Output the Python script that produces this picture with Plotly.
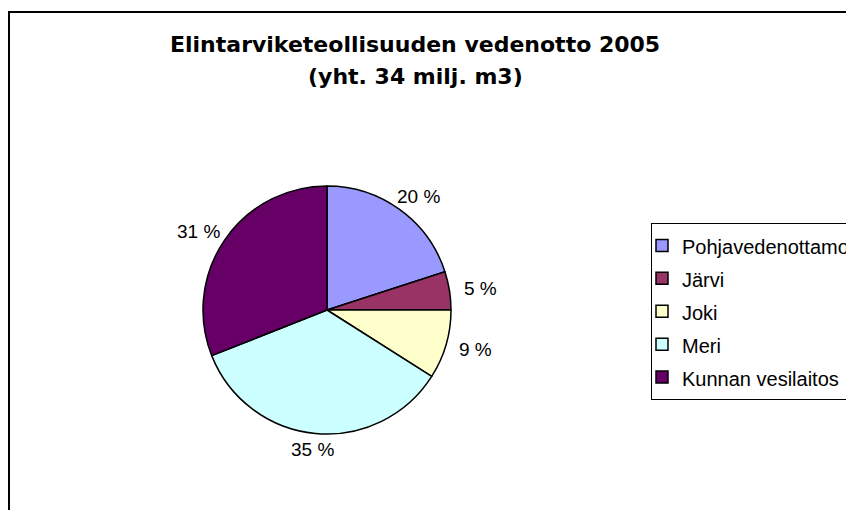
import math
import plotly.graph_objects as go

categories = ["Pohjavedenottamo", "Järvi", "Joki", "Meri", "Kunnan vesilaitos"]
shares = [20, 5, 9, 35, 31]
colors = ["#9999FF", "#993366", "#FFFFCC", "#CCFFFF", "#660066"]
title_lines = ["Elintarviketeollisuuden vedenotto 2005", "(yht. 34 milj. m3)"]

W, H = 846, 510
cx, cy, r = 327, 310, 124
label_rx, label_ry = 155, 140  # label ellipse around the pie centre (px)

fig = go.Figure(go.Pie(
    labels=[f'<span style="font-size:20px">{c}</span>' for c in categories],
    values=shares,
    textinfo="none",
    marker=dict(colors=colors, line=dict(color="#000000", width=1.5)),
    sort=False,
    direction="clockwise",
    rotation=0,
    hovertext=categories,
    hoverinfo="text+percent",
    domain=dict(x=[(cx - r) / W, (cx + r) / W], y=[1 - (cy + r) / H, 1 - (cy - r) / H]),
))

# percentage labels placed at each slice's mid-angle (derived from the data)
annotations = []
total = sum(shares)
cum = 0
for v in shares:
    mid = 90 - 360 * (cum + v / 2) / total
    cum += v
    th = math.radians(mid)
    px = cx + label_rx * math.cos(th)
    py = cy - label_ry * math.sin(th)
    annotations.append(dict(text=f"{v} %", xref="paper", yref="paper",
                            x=px / W, y=1 - py / H, xanchor="center", yanchor="middle",
                            showarrow=False,
                            font=dict(family="Liberation Sans, Arial", size=19, color="#000000")))

title_font = dict(family="DejaVu Sans", size=22, color="#000000")
annotations += [
    dict(text="<b>" + title_lines[0] + "</b>", xref="paper", yref="paper",
         x=415 / W, y=1 - 44 / H, xanchor="center", yanchor="middle",
         showarrow=False, font=title_font),
    dict(text="<b>" + title_lines[1] + "</b>", xref="paper", yref="paper",
         x=415 / W, y=1 - 76 / H, xanchor="center", yanchor="middle",
         showarrow=False, font=title_font),
]

fig.update_layout(
    width=W, height=H,
    margin=dict(l=0, r=0, t=0, b=0, autoexpand=False),
    paper_bgcolor="#FFFFFF",
    plot_bgcolor="#FFFFFF",
    font=dict(family="Liberation Sans, Arial", color="#000000"),
    showlegend=True,
    legend=dict(
        x=651 / W, xanchor="left", y=1 - 223 / H, yanchor="top",
        bordercolor="#000000", borderwidth=1, bgcolor="#FFFFFF",
        font=dict(family="Liberation Sans, Arial", size=23, color="#000000"),
        traceorder="normal", indentation=-10,
    ),
    annotations=annotations,
    shapes=[dict(type="rect", xref="paper", yref="paper",
                 x0=9 / W, x1=1.02, y0=-0.02, y1=1 - 12 / H,
                 line=dict(color="#000000", width=2), fillcolor="rgba(0,0,0,0)", layer="below")],
)

fig.write_html("out.html",
               config={"displayModeBar": False},
               post_script="document.body.style.margin='0';document.body.style.overflow='hidden';")
